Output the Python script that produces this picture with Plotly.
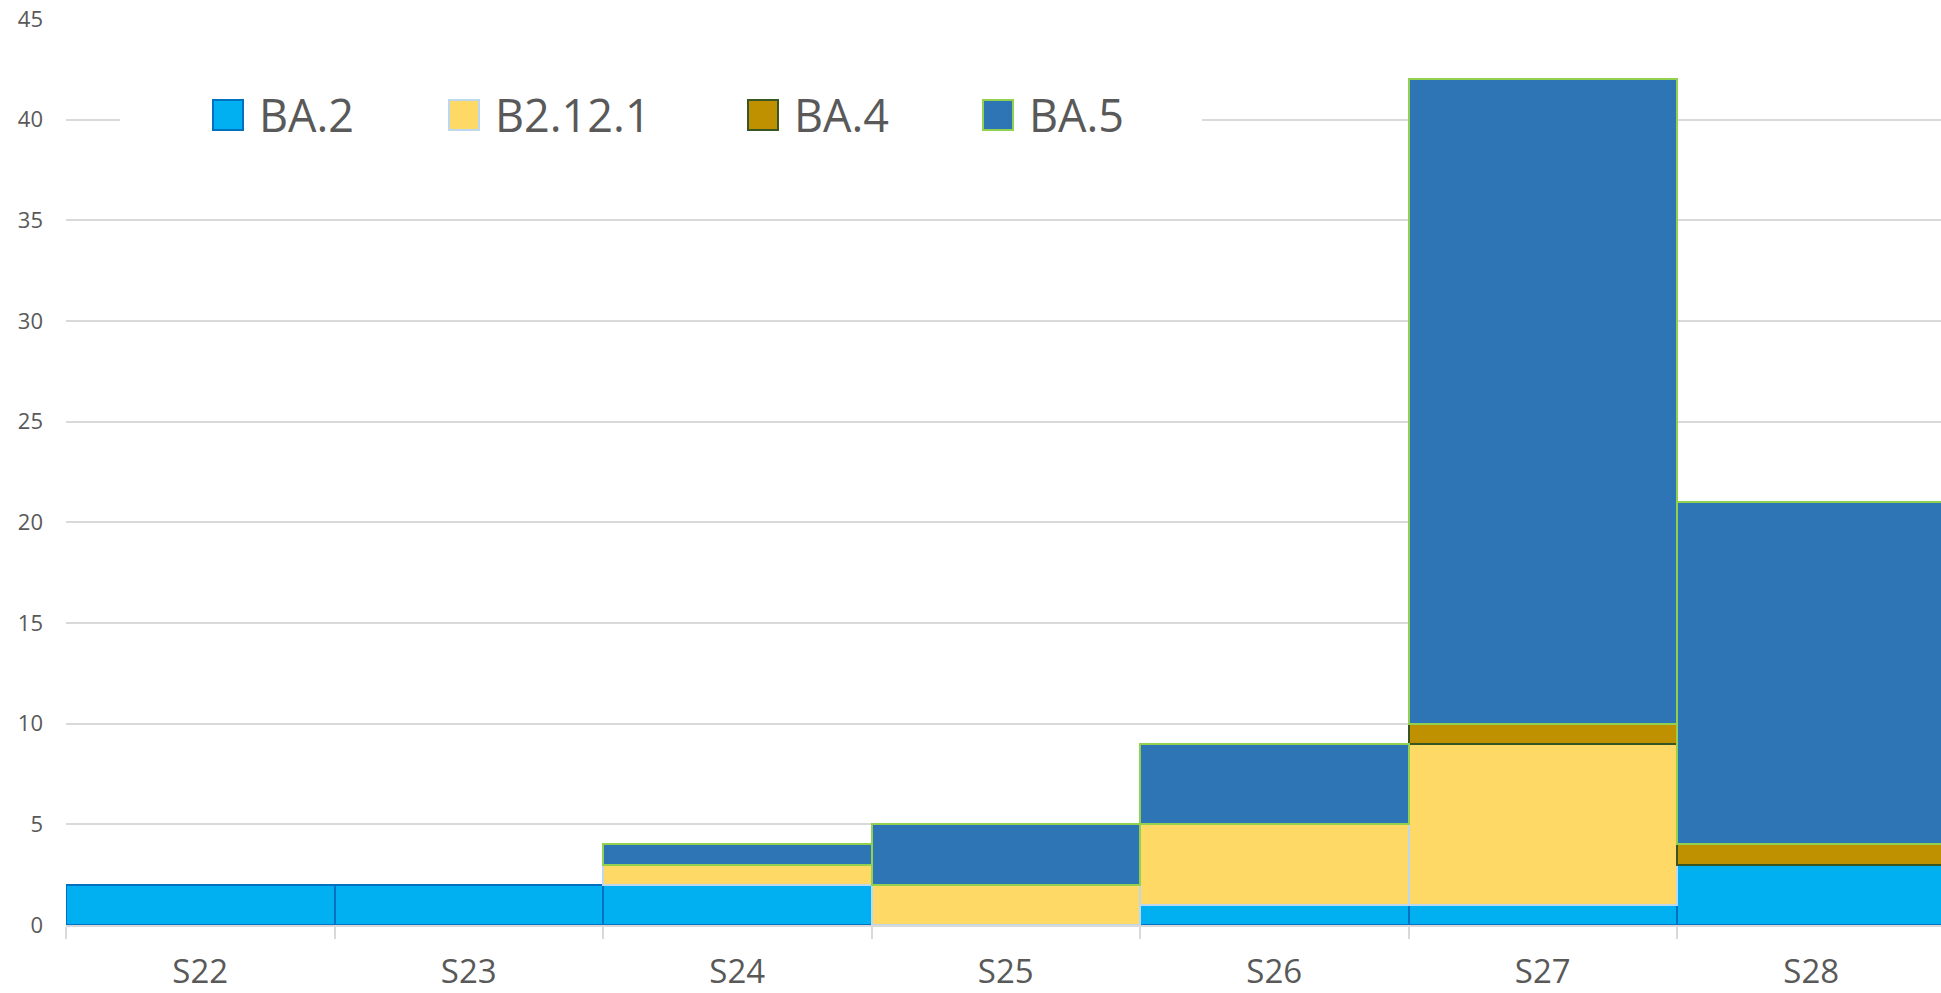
import plotly.graph_objects as go

# ---- data ----
weeks = ["S22", "S23", "S24", "S25", "S26", "S27", "S28"]
ba2 = [2, 2, 2, 0, 1, 1, 3]
b2121 = [0, 0, 1, 2, 4, 8, 0]
ba4 = [0, 0, 0, 0, 0, 1, 1]
ba5 = [0, 0, 1, 3, 4, 32, 17]

series_names = ["BA.2", "B2.12.1", "BA.4", "BA.5"]
fill_colors = ["#00B0F0", "#FFD966", "#BF9000", "#2E75B6"]
line_colors = ["#0070C0", "#BDD7EE", "#375623", "#92D050"]
y_ticks = [0, 5, 10, 15, 20, 25, 30, 35, 40, 45]

TEXT = "#595959"
GRID = "#D9D9D9"
FONT = "Open Sans"

W, H = 1941, 993
ML, MR, MT, MB = 66, 0, 19, 68
plot_w = W - ML - MR
cat_w = 268.5

fig = go.Figure()
for name, vals, fc, lc in zip(series_names, [ba2, b2121, ba4, ba5], fill_colors, line_colors):
    fig.add_trace(go.Bar(
        x=weeks,
        y=[v if v else None for v in vals],
        name=name,
        marker=dict(color=fc, line=dict(color=lc, width=2)),
        showlegend=False,
    ))

# manual legend (large swatches as in reference)
def px_to_paper_x(px):
    return (px - ML) / plot_w

def py_to_paper_y(py):
    return (H - MB - py) / (H - MT - MB)

shapes = [dict(type="rect", xref="paper", yref="paper",
               x0=px_to_paper_x(120), x1=px_to_paper_x(1202),
               y0=py_to_paper_y(170), y1=py_to_paper_y(60),
               fillcolor="white", line=dict(width=0), layer="above")]
annotations = []
swatch_x = [213, 449, 748, 983]
for sx, name, fc, lc in zip(swatch_x, series_names, fill_colors, line_colors):
    shapes.append(dict(type="rect", xref="paper", yref="paper",
                       x0=px_to_paper_x(sx), x1=px_to_paper_x(sx + 30),
                       y0=py_to_paper_y(130), y1=py_to_paper_y(100),
                       fillcolor=fc, line=dict(color=lc, width=2), layer="above"))
    annotations.append(dict(xref="paper", yref="paper",
                            x=px_to_paper_x(sx + 44), y=py_to_paper_y(115),
                            xanchor="left", yanchor="middle", showarrow=False,
                            text=name, font=dict(family=FONT, size=45, color=TEXT)))

fig.update_layout(
    width=W, height=H,
    margin=dict(l=ML, r=MR, t=MT, b=MB, pad=0),
    barmode="stack",
    bargap=0,
    plot_bgcolor="white",
    paper_bgcolor="white",
    font=dict(family=FONT, color=TEXT),
    shapes=shapes,
    annotations=annotations,
    xaxis=dict(
        range=[-0.5, -0.5 + plot_w / cat_w],
        tickson="boundaries",
        ticks="outside", ticklen=12, tickwidth=2, tickcolor=GRID,
        showline=True, linecolor=GRID, linewidth=2,
        showgrid=False,
        tickfont=dict(family=FONT, size=33, color=TEXT),
        ticklabelstandoff=16,
    ),
    yaxis=dict(
        range=[0, 45],
        tickvals=y_ticks,
        showgrid=True, gridcolor=GRID, gridwidth=1.5,
        zeroline=False,
        showline=False,
        ticks="",
        tickfont=dict(family=FONT, size=22, color=TEXT),
        ticklabelstandoff=22,
    ),
)

fig.write_html(
    "out.html",
    config={"displayModeBar": False},
    post_script="document.body.style.margin='0';document.body.style.overflow='hidden';",
)
